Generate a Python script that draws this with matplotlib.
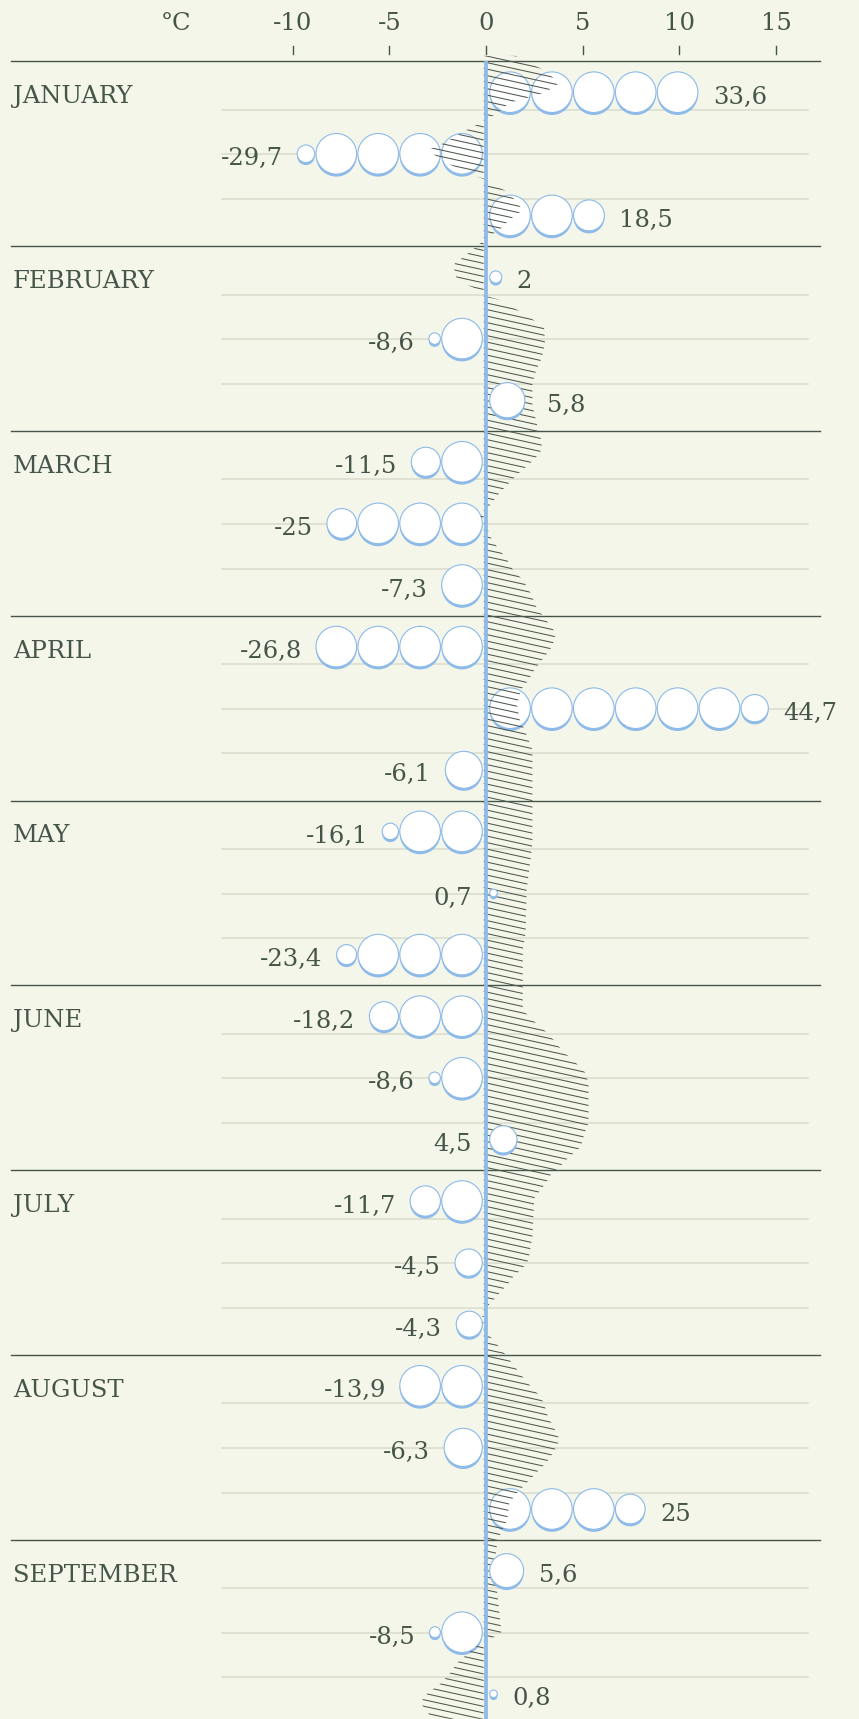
import numpy as np
import matplotlib.pyplot as plt
from matplotlib.patches import Ellipse, Polygon
from matplotlib.collections import LineCollection

# ---- data ----
months = ["JANUARY", "FEBRUARY", "MARCH", "APRIL", "MAY",
          "JUNE", "JULY", "AUGUST", "SEPTEMBER"]

# three values per month (one row each)
values = [33.6, -29.7, 18.5,
          2, -8.6, 5.8,
          -11.5, -25, -7.3,
          -26.8, 44.7, -6.1,
          -16.1, 0.7, -23.4,
          -18.2, -8.6, 4.5,
          -11.7, -4.5, -4.3,
          -13.9, -6.3, 25,
          5.6, -8.5, 0.8]

# temperature curve (position in months from 1 January, °C)
temp_t = [-0.03, 0.047, 0.117, 0.171, 0.225, 0.279, 0.317, 0.371, 0.442, 0.479,
          0.534, 0.588, 0.642, 0.712, 0.804, 0.858, 0.912, 0.956, 1.020, 1.101,
          1.183, 1.237, 1.269, 1.291, 1.361, 1.437, 1.524, 1.600, 1.670, 1.740,
          1.859, 1.995, 2.065, 2.119, 2.173, 2.227, 2.281, 2.335, 2.389, 2.427,
          2.465, 2.509, 2.590, 2.644, 2.698, 2.752, 2.806, 2.876, 2.952, 2.995,
          3.049, 3.093, 3.142, 3.185, 3.239, 3.293, 3.347, 3.401, 3.483, 3.564,
          3.618, 3.672, 3.726, 3.997, 4.229, 4.321, 4.484, 4.716, 4.808, 5.133,
          5.187, 5.241, 5.295, 5.360, 5.414, 5.468, 5.528, 5.744, 5.798, 5.874,
          5.928, 5.982, 6.015, 6.069, 6.150, 6.361, 6.415, 6.486, 6.529, 6.578,
          6.621, 6.664, 6.691, 6.719, 6.756, 6.810, 6.875, 6.935, 6.984, 7.038,
          7.092, 7.146, 7.200, 7.260, 7.336, 7.390, 7.460, 7.525, 7.585, 7.638,
          7.693, 7.747, 7.801, 7.893, 8.001, 8.082, 8.147, 8.255, 8.407, 8.499,
          8.531, 8.558, 8.612, 8.666, 8.720, 8.774, 8.828, 8.882, 8.936, 8.969]
temp_c = [1.5, 3.0, 3.8, 3.0, 1.2, 0.6, 0.0, -1.0, -2.2, -3.0,
          -2.3, -1.3, 0.0, 1.2, 1.9, 1.2, 0.7, 0.0, -0.7, -1.7,
          -1.5, -0.4, 0.0, 0.7, 1.9, 3.0, 3.05, 2.9, 2.6, 2.4,
          2.4, 2.7, 2.9, 2.8, 2.3, 1.7, 1.2, 0.7, 0.3, 0.0,
          -0.3, 0.0, 0.3, 0.7, 1.1, 1.4, 1.9, 2.3, 2.6, 2.9,
          3.3, 3.6, 3.5, 3.3, 2.9, 2.5, 2.2, 1.8, 1.6, 1.75,
          2.0, 2.2, 2.4, 2.4, 2.4, 2.3, 2.1, 2.05, 1.9, 1.9,
          2.4, 3.0, 3.5, 4.0, 4.6, 5.1, 5.3, 5.3, 5.1, 4.9,
          4.3, 3.8, 3.4, 3.1, 2.5, 2.4, 2.3, 2.2, 1.9, 1.4,
          1.1, 0.7, 0.5, 0.2, 0.0, -0.3, 0.0, 0.5, 0.9, 1.3,
          1.7, 2.1, 2.6, 3.0, 3.2, 3.5, 3.8, 3.5, 3.1, 2.6,
          2.1, 1.6, 1.2, 1.1, 0.6, 0.5, 0.4, 0.55, 0.7, 0.8,
          0.35, -0.3, -0.9, -1.5, -1.85, -2.3, -3.0, -3.4, -3.0, -2.8]

xticks = [-10, -5, 0, 5, 10, 15]
unit = 6.7            # value of one full circle
label_left = [13, 17]  # rows whose label sits left of the axis

# ---- look ----
BG = "#f4f6ea"
INK = "#46554a"
BLUE = "#8dbae8"
GRID = "#d9dccb"
W, H, DPI = 859, 1719, 100
X0, PXC = 486, 19.34      # pixel of 0 °C, pixels per °C
TOP, PXM = 61.4, 184.8    # pixel of 1 Jan, pixels per month
R = 20.3
plt.rcParams['font.family'] = ['DejaVu Serif']
FS = 17.5

fig = plt.figure(figsize=(W / DPI, H / DPI), dpi=DPI, facecolor=BG)
ax = fig.add_axes([0, 0, 1, 1])
ax.set_facecolor(BG)
ax.set_xlim(-X0 / PXC, (W - X0) / PXC)
ax.set_ylim((H - TOP) / PXM, -TOP / PXM)
ax.axis('off')


def dx(p):
    return p / PXC


def dy(p):
    return p / PXM


# top scale
for t in xticks:
    ax.plot([t, t], [dy(46 - TOP), dy(54 - TOP)], color=INK, lw=1.0)
    ax.text(t, dy(30.5 - TOP), str(t), ha='center', va='baseline',
            fontsize=FS, color=INK)
ax.text(dx(176 - X0), dy(30.5 - TOP), "°C", ha='center', va='baseline',
        fontsize=FS, color=INK)

# month separators, light grid, month names
for m, name in enumerate(months):
    ax.plot([dx(11 - X0), dx(820 - X0)], [m, m], color=INK, lw=1.0, zorder=1)
    for f in (0.262, 0.503, 0.745):
        ax.plot([dx(222 - X0), dx(808 - X0)], [m + f, m + f],
                color=GRID, lw=1.1, zorder=0)
    ax.text(dx(13 - X0), m + 1 / 6 + dy(11), name, ha='left',
            va='baseline', fontsize=FS, color=INK)

# temperature hatch
tt = np.array(temp_t)
tc = np.array(temp_c)
verts = np.vstack([np.column_stack([tc, tt]),
                   np.column_stack([np.full(len(tt), -0.12), tt[::-1]])])
poly = Polygon(verts, closed=True, facecolor='none', edgecolor='none')
ax.add_patch(poly)
slope = 0.22 * PXC / PXM
segs = []
for y0 in np.arange(-0.1, 9.1, dy(6.5)):
    segs.append([(-6, y0 - 6 * slope), (8, y0 + 8 * slope)])
lc = LineCollection(segs, colors="#4f584f", linewidths=0.75, zorder=3)
lc.set_clip_path(poly)
ax.add_collection(lc)

# axis line
ax.plot([0, 0], [0, (H - TOP) / PXM], color=BLUE, lw=2.7, zorder=3.5,
        solid_capstyle='butt')

# circles
for i, v in enumerate(values):
    y = i // 3 + (2 * (i % 3) + 1) / 6
    n = abs(v) / unit
    radii = [R] * int(n)
    frac = n - int(n)
    if frac >= 0.1:
        radii.append(max(frac * R, 3.8))
    s = 1 if v > 0 else -1
    pos = 3.7
    for k, r in enumerate(radii):
        if k > 0:
            pos += 1.3
        c = pos + r
        pos = c + r
        z = 2 if r == R else 4
        ax.add_patch(Ellipse((s * dx(c), y + dy(2.5)), dx(2 * r), dy(2 * r),
                             facecolor=BLUE, edgecolor='none', zorder=z))
        ax.add_patch(Ellipse((s * dx(c), y), dx(2 * r), dy(2 * r),
                             facecolor='white', edgecolor=BLUE, lw=0.8,
                             zorder=z + 0.1))
    txt = f"{v:g}".replace('.', ',')
    ty = y + dy(11.5)
    if i in label_left:
        ax.text(-dx(14), ty, txt, ha='right', va='baseline', fontsize=FS,
                color=INK, zorder=5)
    elif v > 0:
        curve = max(np.interp(y, tt, tc), 0) * PXC
        ax.text(dx(max(pos, curve) + 15), ty, txt, ha='left', va='baseline',
                fontsize=FS, color=INK, zorder=5)
    else:
        ax.text(-dx(pos + 14), ty, txt, ha='right', va='baseline',
                fontsize=FS, color=INK, zorder=5)

fig.savefig("out.png", dpi=DPI, facecolor=BG)
